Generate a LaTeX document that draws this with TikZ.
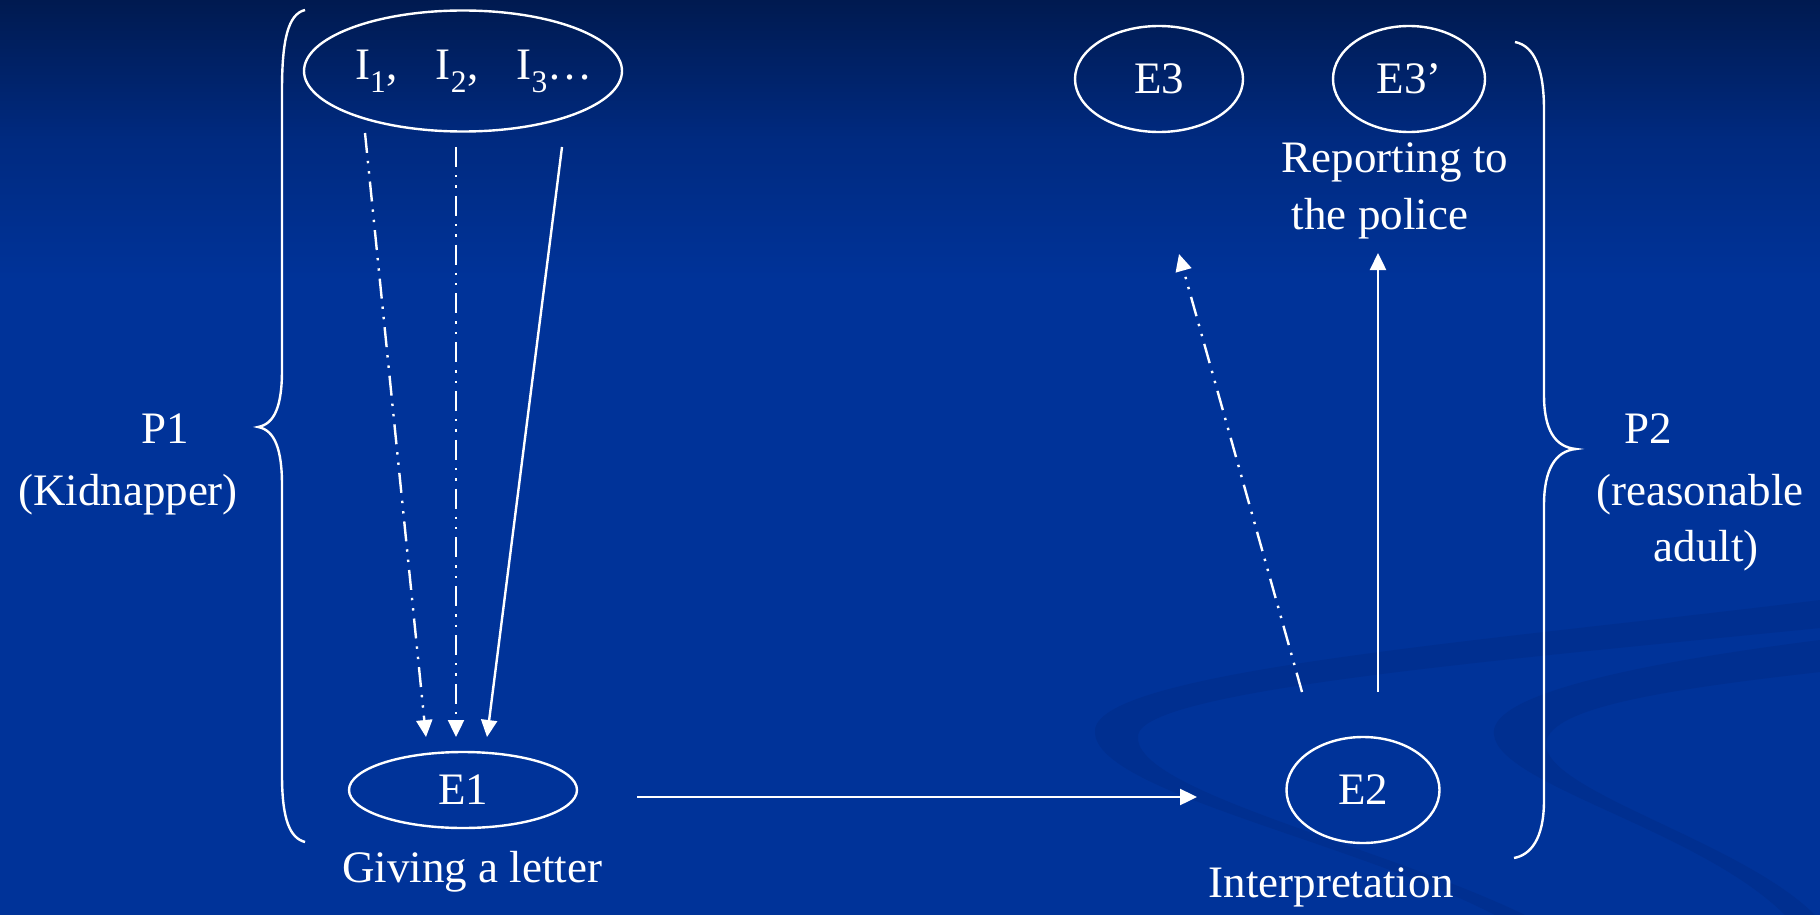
\documentclass[tikz,border=0pt]{standalone}
\usepackage{fontspec}
\setmainfont{Liberation Serif}
\usetikzlibrary{arrows.meta,shapes.geometric}
\definecolor{bgmain}{RGB}{0,51,153}
\definecolor{bgtop}{RGB}{0,26,80}
\definecolor{bgmid}{RGB}{0,42,128}
\definecolor{swirl}{RGB}{0,47,144}
\tikzset{
  lbl/.style={text=white,font=\fontsize{45}{56}\selectfont,inner sep=0pt},
  oval/.style={ellipse,draw=white,line width=2.4pt,text=white,font=\fontsize{45}{56}\selectfont,inner sep=0pt},
  conn/.style={draw=white,line width=2.4pt,-{Triangle[width=16pt,length=17pt]}},
  ddot/.style={dash pattern=on 20pt off 8pt on 2.4pt off 8pt on 2.4pt off 8pt},
  brace/.style={draw=white,line width=2.4pt}
}
\begin{document}
\begin{tikzpicture}[x=1pt,y=-1pt]
\useasboundingbox (0,0) rectangle (1820,915);
% background
\fill[bgmain] (0,0) rectangle (1820,915);
\shade[top color=bgtop,bottom color=bgmain,middle color=bgmid] (0,0) rectangle (1820,280);
% swirls
\fill[swirl] (1820,600) .. controls (1500,640) and (1100,670) .. (1095,730)
  .. controls (1090,790) and (1350,840) .. (1495,915) -- (1525,915)
  .. controls (1380,845) and (1130,790) .. (1138,735)
  .. controls (1145,690) and (1500,660) .. (1820,628) -- cycle;
\fill[swirl] (1820,640) .. controls (1600,668) and (1488,700) .. (1494,735)
  .. controls (1500,785) and (1700,830) .. (1785,915) -- (1815,915)
  .. controls (1740,840) and (1540,790) .. (1546,742)
  .. controls (1552,708) and (1660,690) .. (1820,672) -- cycle;
% braces
\draw[brace] (305,10) .. controls (288,14) and (282,40) .. (282,90) -- (282,370)
  .. controls (282,405) and (275,424) .. (258,427)
  .. controls (275,430) and (282,450) .. (282,485) -- (282,775)
  .. controls (282,820) and (290,838) .. (305,842);
\draw[brace] (1515,42) .. controls (1535,46) and (1544,70) .. (1544,110) -- (1544,395)
  .. controls (1544,430) and (1555,447) .. (1576,449)
  .. controls (1555,451) and (1544,470) .. (1544,505) -- (1544,800)
  .. controls (1544,840) and (1530,855) .. (1514,858);
% ovals
\node[ellipse,draw=white,line width=2.4pt,minimum width=318pt,minimum height=121pt] (I) at (463,71) {};
\node[lbl,anchor=base west] (Itxt) at (355,80)
  {I\textsubscript{1},\hspace{0.85em}I\textsubscript{2},\hspace{0.85em}I\textsubscript{3}…};
\node[oval,minimum width=228pt,minimum height=76pt] (E1) at (463,790) {E1};
\node[oval,minimum width=153pt,minimum height=106pt] (E2) at (1363,790) {E2};
\node[oval,minimum width=168pt,minimum height=106pt] (E3) at (1159,79) {E3};
\node[oval,minimum width=152pt,minimum height=106pt] (E3p) at (1409,79) {E3’};
% labels
\node[lbl,anchor=base] (p1a) at (165,443) {P1};
\node[lbl,anchor=base] (p1b) at (128,505) {(Kidnapper)};
\node[lbl,anchor=base] (p2a) at (1648,443) {P2};
\node[lbl,anchor=base] (p2b) at (1700,505) {(reasonable};
\node[lbl,anchor=base] (p2c) at (1706,561) {adult)};
\node[lbl,anchor=base] (t1) at (472,882) {Giving a letter};
\node[lbl,anchor=base] (t2) at (1331,897) {Interpretation};
\node[lbl,anchor=base] (t3a) at (1395,172) {Reporting to};
\node[lbl,anchor=base] (t3b) at (1380,229) {the police};
% connector end points
\coordinate (a1s) at (365,133); \coordinate (a1e) at (426,737);
\coordinate (a2s) at (456,147); \coordinate (a2e) at (456,737);
\coordinate (a3s) at (562,147); \coordinate (a3e) at (487,737);
\coordinate (a4s) at (637,797); \coordinate (a4e) at (1197,797);
\coordinate (a5s) at (1302,692); \coordinate (a5e) at (1179,254);
\coordinate (a6s) at (1378,692); \coordinate (a6e) at (1378,253);
% connectors
\draw[conn,ddot] (a1s) -- (a1e);
\draw[conn,ddot] (a2s) -- (a2e);
\draw[conn] (a3s) -- (a3e);
\draw[conn] (a4s) -- (a4e);
\draw[conn,ddot] (a5s) -- (a5e);
\draw[conn] (a6s) -- (a6e);
\end{tikzpicture}
\end{document}
